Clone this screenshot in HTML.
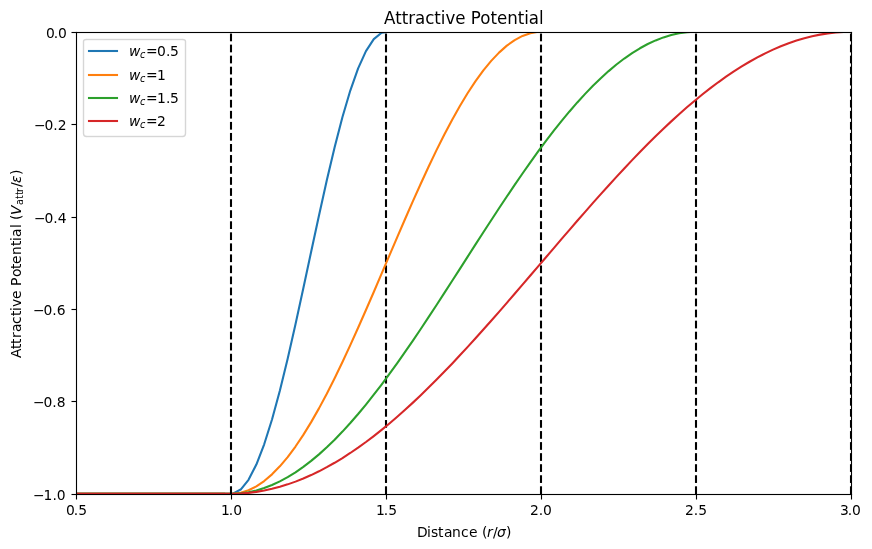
<!DOCTYPE html>
<html><head><meta charset="utf-8"><title>Attractive Potential</title>
<style>html,body{margin:0;padding:0;background:#fff;width:872px;height:549px;overflow:hidden}svg{display:block;will-change:transform}</style>
</head><body>
<svg width="872" height="549" viewBox="0 0 872 549">
<defs><clipPath id="c"><rect x="76" y="32" width="775" height="462"/></clipPath></defs>
<rect x="0" y="0" width="872" height="549" fill="#fff"/>
<g><rect x="75.944" y="494.5" width="1.111" height="5" fill="#000"/><rect x="230.944" y="494.5" width="1.111" height="5" fill="#000"/><rect x="385.944" y="494.5" width="1.111" height="5" fill="#000"/><rect x="540.944" y="494.5" width="1.111" height="5" fill="#000"/><rect x="695.944" y="494.5" width="1.111" height="5" fill="#000"/><rect x="850.944" y="494.5" width="1.111" height="5" fill="#000"/></g>
<g font-family="'DejaVu Sans', 'Liberation Sans', sans-serif" fill="#000"><text x="66 73.75 78.125" y="515" font-size="13.889">0.5</text><text x="220.9 228.775 233.15" y="515" font-size="13.889">1.0</text><text x="375.9 383.775 388.15" y="515" font-size="13.889">1.5</text><text x="529.95 538.7 543.075" y="515" font-size="13.889">2.0</text><text x="685 693.75 698.125" y="515" font-size="13.889">2.5</text><text x="839.9 847.65 852.025" y="515" font-size="13.889">3.0</text><text font-size="13.889"><tspan x="417 427 431 438 444 452 461 469 477 482" y="537">Distance (</tspan><tspan x="487" y="537" font-style="oblique">r</tspan><tspan x="493" y="537">/</tspan><tspan x="497" y="537" font-style="oblique">σ</tspan><tspan x="506" y="537">)</tspan></text></g>
<g><rect x="71.5" y="31.944" width="5" height="1.111" fill="#000"/><rect x="71.5" y="123.944" width="5" height="1.111" fill="#000"/><rect x="71.5" y="216.944" width="5" height="1.111" fill="#000"/><rect x="71.5" y="308.944" width="5" height="1.111" fill="#000"/><rect x="71.5" y="400.944" width="5" height="1.111" fill="#000"/><rect x="71.5" y="493.944" width="5" height="1.111" fill="#000"/></g>
<g font-family="'DejaVu Sans', 'Liberation Sans', sans-serif" fill="#000"><text x="32.95 43.575 52.45 56.825" y="500" font-size="13.889">−1.0</text><text x="32.9 43.525 52.275 56.65" y="407" font-size="13.889">−0.8</text><text x="32.9 43.525 52.275 56.65" y="315" font-size="13.889">−0.6</text><text x="33.9 44.525 53.275 57.65" y="223" font-size="13.889">−0.4</text><text x="33.95 44.575 53.325 57.7" y="130" font-size="13.889">−0.2</text><text x="45.9 53.65 58.025" y="38" font-size="13.889">0.0</text><text transform="translate(8.75 359) rotate(-90)" font-size="13.889"><tspan x="1 10 15 21 27 35 43 48 52 60 69 73 82 90 95 104 113 118 122 131 134 139" y="12">Attractive Potential (</tspan><tspan x="144" y="12" font-style="oblique">V</tspan><tspan x="154 160 164 167" y="14" font-size="9.722">attr</tspan><tspan x="172" y="12">/</tspan><tspan x="176" y="12" font-style="oblique">ε</tspan><tspan x="184" y="12">)</tspan></text></g>
<g>
<g><rect x="76" y="492.681" width="149.04" height="1.319" fill="#1f77b4"/></g>
<polyline clip-path="url(#c)" fill="none" points="225.04,493.722 232.868,493.606 240.697,489.548 248.525,479.791 256.353,464.581 264.182,444.3 272.01,419.458 279.838,390.678 287.666,358.683 295.495,324.278 303.323,288.326 311.151,251.731 318.98,215.412 326.808,180.282 334.636,147.222 342.464,117.065 350.293,90.566 358.121,68.393 365.949,51.101 373.778,39.126 381.606,32.768 389.434,31.722 397.262,31.722 405.091,31.722 412.919,31.722 420.747,31.722 428.576,31.722 436.404,31.722 444.232,31.722 452.06,31.722 459.889,31.722 467.717,31.722 475.545,31.722 483.373,31.722 491.202,31.722 499.03,31.722 506.858,31.722 514.687,31.722 522.515,31.722 530.343,31.722 538.171,31.722 546,31.722 553.828,31.722 561.656,31.722 569.485,31.722 577.313,31.722 585.141,31.722 592.969,31.722 600.798,31.722 608.626,31.722 616.454,31.722 624.283,31.722 632.111,31.722 639.939,31.722 647.767,31.722 655.596,31.722 663.424,31.722 671.252,31.722 679.081,31.722 686.909,31.722 694.737,31.722 702.565,31.722 710.394,31.722 718.222,31.722 726.05,31.722 733.879,31.722 741.707,31.722 749.535,31.722 757.363,31.722 765.192,31.722 773.02,31.722 780.848,31.722 788.677,31.722 796.505,31.722 804.333,31.722 812.161,31.722 819.99,31.722 827.818,31.722 835.646,31.722 843.474,31.722 851.303,31.722" stroke="#1f77b4" stroke-width="2.0833" stroke-linecap="butt" stroke-linejoin="round"/>
<g><rect x="384.958" y="486.292" width="2.083" height="7.708" fill="#000"/><rect x="384.958" y="475.25" width="2.083" height="7.708" fill="#000"/><rect x="384.958" y="464.208" width="2.083" height="7.708" fill="#000"/><rect x="384.958" y="453.167" width="2.083" height="7.708" fill="#000"/><rect x="384.958" y="442.125" width="2.083" height="7.708" fill="#000"/><rect x="384.958" y="431.083" width="2.083" height="7.708" fill="#000"/><rect x="384.958" y="420.042" width="2.083" height="7.708" fill="#000"/><rect x="384.958" y="409" width="2.083" height="7.708" fill="#000"/><rect x="384.958" y="397.958" width="2.083" height="7.708" fill="#000"/><rect x="384.958" y="386.917" width="2.083" height="7.708" fill="#000"/><rect x="384.958" y="375.875" width="2.083" height="7.708" fill="#000"/><rect x="384.958" y="364.833" width="2.083" height="7.708" fill="#000"/><rect x="384.958" y="353.792" width="2.083" height="7.708" fill="#000"/><rect x="384.958" y="342.75" width="2.083" height="7.708" fill="#000"/><rect x="384.958" y="331.708" width="2.083" height="7.708" fill="#000"/><rect x="384.958" y="320.667" width="2.083" height="7.708" fill="#000"/><rect x="384.958" y="309.625" width="2.083" height="7.708" fill="#000"/><rect x="384.958" y="298.583" width="2.083" height="7.708" fill="#000"/><rect x="384.958" y="287.542" width="2.083" height="7.708" fill="#000"/><rect x="384.958" y="276.5" width="2.083" height="7.708" fill="#000"/><rect x="384.958" y="265.458" width="2.083" height="7.708" fill="#000"/><rect x="384.958" y="254.417" width="2.083" height="7.708" fill="#000"/><rect x="384.958" y="243.375" width="2.083" height="7.708" fill="#000"/><rect x="384.958" y="232.333" width="2.083" height="7.708" fill="#000"/><rect x="384.958" y="221.292" width="2.083" height="7.708" fill="#000"/><rect x="384.958" y="210.25" width="2.083" height="7.708" fill="#000"/><rect x="384.958" y="199.208" width="2.083" height="7.708" fill="#000"/><rect x="384.958" y="188.167" width="2.083" height="7.708" fill="#000"/><rect x="384.958" y="177.125" width="2.083" height="7.708" fill="#000"/><rect x="384.958" y="166.083" width="2.083" height="7.708" fill="#000"/><rect x="384.958" y="155.042" width="2.083" height="7.708" fill="#000"/><rect x="384.958" y="144" width="2.083" height="7.708" fill="#000"/><rect x="384.958" y="132.958" width="2.083" height="7.708" fill="#000"/><rect x="384.958" y="121.917" width="2.083" height="7.708" fill="#000"/><rect x="384.958" y="110.875" width="2.083" height="7.708" fill="#000"/><rect x="384.958" y="99.833" width="2.083" height="7.708" fill="#000"/><rect x="384.958" y="88.792" width="2.083" height="7.708" fill="#000"/><rect x="384.958" y="77.75" width="2.083" height="7.708" fill="#000"/><rect x="384.958" y="66.708" width="2.083" height="7.708" fill="#000"/><rect x="384.958" y="55.667" width="2.083" height="7.708" fill="#000"/><rect x="384.958" y="44.625" width="2.083" height="7.708" fill="#000"/><rect x="384.958" y="33.583" width="2.083" height="7.708" fill="#000"/></g>
<g><rect x="76" y="492.681" width="149.04" height="1.319" fill="#ff7f0e"/></g>
<polyline clip-path="url(#c)" fill="none" points="225.04,493.722 232.868,493.693 240.697,492.676 248.525,490.213 256.353,486.318 264.182,481.017 272.01,474.343 279.838,466.338 287.666,457.052 295.495,446.543 303.323,434.878 311.151,422.13 318.98,408.38 326.808,393.713 334.636,378.222 342.464,362.005 350.293,345.163 358.121,327.802 365.949,310.033 373.778,291.965 381.606,273.714 389.434,255.393 397.262,237.119 405.091,219.005 412.919,201.167 420.747,183.716 428.576,166.761 436.404,150.411 444.232,134.767 452.06,119.927 459.889,105.987 467.717,93.032 475.545,81.144 483.373,70.399 491.202,60.863 499.03,52.597 506.858,45.653 514.687,40.075 522.515,35.897 530.343,33.146 538.171,31.839 546,31.722 553.828,31.722 561.656,31.722 569.485,31.722 577.313,31.722 585.141,31.722 592.969,31.722 600.798,31.722 608.626,31.722 616.454,31.722 624.283,31.722 632.111,31.722 639.939,31.722 647.767,31.722 655.596,31.722 663.424,31.722 671.252,31.722 679.081,31.722 686.909,31.722 694.737,31.722 702.565,31.722 710.394,31.722 718.222,31.722 726.05,31.722 733.879,31.722 741.707,31.722 749.535,31.722 757.363,31.722 765.192,31.722 773.02,31.722 780.848,31.722 788.677,31.722 796.505,31.722 804.333,31.722 812.161,31.722 819.99,31.722 827.818,31.722 835.646,31.722 843.474,31.722 851.303,31.722" stroke="#ff7f0e" stroke-width="2.0833" stroke-linecap="butt" stroke-linejoin="round"/>
<g><rect x="539.958" y="486.292" width="2.083" height="7.708" fill="#000"/><rect x="539.958" y="475.25" width="2.083" height="7.708" fill="#000"/><rect x="539.958" y="464.208" width="2.083" height="7.708" fill="#000"/><rect x="539.958" y="453.167" width="2.083" height="7.708" fill="#000"/><rect x="539.958" y="442.125" width="2.083" height="7.708" fill="#000"/><rect x="539.958" y="431.083" width="2.083" height="7.708" fill="#000"/><rect x="539.958" y="420.042" width="2.083" height="7.708" fill="#000"/><rect x="539.958" y="409" width="2.083" height="7.708" fill="#000"/><rect x="539.958" y="397.958" width="2.083" height="7.708" fill="#000"/><rect x="539.958" y="386.917" width="2.083" height="7.708" fill="#000"/><rect x="539.958" y="375.875" width="2.083" height="7.708" fill="#000"/><rect x="539.958" y="364.833" width="2.083" height="7.708" fill="#000"/><rect x="539.958" y="353.792" width="2.083" height="7.708" fill="#000"/><rect x="539.958" y="342.75" width="2.083" height="7.708" fill="#000"/><rect x="539.958" y="331.708" width="2.083" height="7.708" fill="#000"/><rect x="539.958" y="320.667" width="2.083" height="7.708" fill="#000"/><rect x="539.958" y="309.625" width="2.083" height="7.708" fill="#000"/><rect x="539.958" y="298.583" width="2.083" height="7.708" fill="#000"/><rect x="539.958" y="287.542" width="2.083" height="7.708" fill="#000"/><rect x="539.958" y="276.5" width="2.083" height="7.708" fill="#000"/><rect x="539.958" y="265.458" width="2.083" height="7.708" fill="#000"/><rect x="539.958" y="254.417" width="2.083" height="7.708" fill="#000"/><rect x="539.958" y="243.375" width="2.083" height="7.708" fill="#000"/><rect x="539.958" y="232.333" width="2.083" height="7.708" fill="#000"/><rect x="539.958" y="221.292" width="2.083" height="7.708" fill="#000"/><rect x="539.958" y="210.25" width="2.083" height="7.708" fill="#000"/><rect x="539.958" y="199.208" width="2.083" height="7.708" fill="#000"/><rect x="539.958" y="188.167" width="2.083" height="7.708" fill="#000"/><rect x="539.958" y="177.125" width="2.083" height="7.708" fill="#000"/><rect x="539.958" y="166.083" width="2.083" height="7.708" fill="#000"/><rect x="539.958" y="155.042" width="2.083" height="7.708" fill="#000"/><rect x="539.958" y="144" width="2.083" height="7.708" fill="#000"/><rect x="539.958" y="132.958" width="2.083" height="7.708" fill="#000"/><rect x="539.958" y="121.917" width="2.083" height="7.708" fill="#000"/><rect x="539.958" y="110.875" width="2.083" height="7.708" fill="#000"/><rect x="539.958" y="99.833" width="2.083" height="7.708" fill="#000"/><rect x="539.958" y="88.792" width="2.083" height="7.708" fill="#000"/><rect x="539.958" y="77.75" width="2.083" height="7.708" fill="#000"/><rect x="539.958" y="66.708" width="2.083" height="7.708" fill="#000"/><rect x="539.958" y="55.667" width="2.083" height="7.708" fill="#000"/><rect x="539.958" y="44.625" width="2.083" height="7.708" fill="#000"/><rect x="539.958" y="33.583" width="2.083" height="7.708" fill="#000"/></g>
<g><rect x="76" y="492.681" width="149.04" height="1.319" fill="#2ca02c"/></g>
<polyline clip-path="url(#c)" fill="none" points="225.04,493.722 232.868,493.709 240.697,493.257 248.525,492.16 256.353,490.422 264.182,488.047 272.01,485.041 279.838,481.414 287.666,477.175 295.495,472.337 303.323,466.912 311.151,460.916 318.98,454.366 326.808,447.281 334.636,439.678 342.464,431.582 350.293,423.012 358.121,413.995 365.949,404.555 373.778,394.718 381.606,384.511 389.434,373.964 397.262,363.107 405.091,351.968 412.919,340.58 420.747,328.974 428.576,317.183 436.404,305.239 444.232,293.177 452.06,281.029 459.889,268.83 467.717,256.614 475.545,244.415 483.373,232.268 491.202,220.205 499.03,208.262 506.858,196.471 514.687,184.865 522.515,173.476 530.343,162.338 538.171,151.48 546,140.933 553.828,130.727 561.656,120.89 569.485,111.449 577.313,102.432 585.141,93.863 592.969,85.766 600.798,78.164 608.626,71.078 616.454,64.528 624.283,58.532 632.111,53.108 639.939,48.269 647.767,44.03 655.596,40.403 663.424,37.398 671.252,35.023 679.081,33.284 686.909,32.187 694.737,31.735 702.565,31.722 710.394,31.722 718.222,31.722 726.05,31.722 733.879,31.722 741.707,31.722 749.535,31.722 757.363,31.722 765.192,31.722 773.02,31.722 780.848,31.722 788.677,31.722 796.505,31.722 804.333,31.722 812.161,31.722 819.99,31.722 827.818,31.722 835.646,31.722 843.474,31.722 851.303,31.722" stroke="#2ca02c" stroke-width="2.0833" stroke-linecap="butt" stroke-linejoin="round"/>
<g><rect x="694.958" y="486.292" width="2.083" height="7.708" fill="#000"/><rect x="694.958" y="475.25" width="2.083" height="7.708" fill="#000"/><rect x="694.958" y="464.208" width="2.083" height="7.708" fill="#000"/><rect x="694.958" y="453.167" width="2.083" height="7.708" fill="#000"/><rect x="694.958" y="442.125" width="2.083" height="7.708" fill="#000"/><rect x="694.958" y="431.083" width="2.083" height="7.708" fill="#000"/><rect x="694.958" y="420.042" width="2.083" height="7.708" fill="#000"/><rect x="694.958" y="409" width="2.083" height="7.708" fill="#000"/><rect x="694.958" y="397.958" width="2.083" height="7.708" fill="#000"/><rect x="694.958" y="386.917" width="2.083" height="7.708" fill="#000"/><rect x="694.958" y="375.875" width="2.083" height="7.708" fill="#000"/><rect x="694.958" y="364.833" width="2.083" height="7.708" fill="#000"/><rect x="694.958" y="353.792" width="2.083" height="7.708" fill="#000"/><rect x="694.958" y="342.75" width="2.083" height="7.708" fill="#000"/><rect x="694.958" y="331.708" width="2.083" height="7.708" fill="#000"/><rect x="694.958" y="320.667" width="2.083" height="7.708" fill="#000"/><rect x="694.958" y="309.625" width="2.083" height="7.708" fill="#000"/><rect x="694.958" y="298.583" width="2.083" height="7.708" fill="#000"/><rect x="694.958" y="287.542" width="2.083" height="7.708" fill="#000"/><rect x="694.958" y="276.5" width="2.083" height="7.708" fill="#000"/><rect x="694.958" y="265.458" width="2.083" height="7.708" fill="#000"/><rect x="694.958" y="254.417" width="2.083" height="7.708" fill="#000"/><rect x="694.958" y="243.375" width="2.083" height="7.708" fill="#000"/><rect x="694.958" y="232.333" width="2.083" height="7.708" fill="#000"/><rect x="694.958" y="221.292" width="2.083" height="7.708" fill="#000"/><rect x="694.958" y="210.25" width="2.083" height="7.708" fill="#000"/><rect x="694.958" y="199.208" width="2.083" height="7.708" fill="#000"/><rect x="694.958" y="188.167" width="2.083" height="7.708" fill="#000"/><rect x="694.958" y="177.125" width="2.083" height="7.708" fill="#000"/><rect x="694.958" y="166.083" width="2.083" height="7.708" fill="#000"/><rect x="694.958" y="155.042" width="2.083" height="7.708" fill="#000"/><rect x="694.958" y="144" width="2.083" height="7.708" fill="#000"/><rect x="694.958" y="132.958" width="2.083" height="7.708" fill="#000"/><rect x="694.958" y="121.917" width="2.083" height="7.708" fill="#000"/><rect x="694.958" y="110.875" width="2.083" height="7.708" fill="#000"/><rect x="694.958" y="99.833" width="2.083" height="7.708" fill="#000"/><rect x="694.958" y="88.792" width="2.083" height="7.708" fill="#000"/><rect x="694.958" y="77.75" width="2.083" height="7.708" fill="#000"/><rect x="694.958" y="66.708" width="2.083" height="7.708" fill="#000"/><rect x="694.958" y="55.667" width="2.083" height="7.708" fill="#000"/><rect x="694.958" y="44.625" width="2.083" height="7.708" fill="#000"/><rect x="694.958" y="33.583" width="2.083" height="7.708" fill="#000"/></g>
<g><rect x="76" y="492.681" width="149.04" height="1.319" fill="#d62728"/></g>
<polyline clip-path="url(#c)" fill="none" points="225.04,493.722 232.868,493.715 240.697,493.461 248.525,492.843 256.353,491.864 264.182,490.524 272.01,488.826 279.838,486.772 287.666,484.365 295.495,481.61 303.323,478.51 311.151,475.071 318.98,471.298 326.808,467.197 334.636,462.774 342.464,458.036 350.293,452.992 358.121,447.647 365.949,442.012 373.778,436.095 381.606,429.905 389.434,423.452 397.262,416.746 405.091,409.798 412.919,402.618 420.747,395.218 428.576,387.61 436.404,379.806 444.232,371.817 452.06,363.656 459.889,355.337 467.717,346.872 475.545,338.275 483.373,329.559 491.202,320.737 499.03,311.825 506.858,302.835 514.687,293.782 522.515,284.68 530.343,275.544 538.171,266.387 546,257.225 553.828,248.071 561.656,238.941 569.485,229.847 577.313,220.806 585.141,211.83 592.969,202.935 600.798,194.134 608.626,185.44 616.454,176.868 624.283,168.431 632.111,160.143 639.939,152.016 647.767,144.063 655.596,136.296 663.424,128.729 671.252,121.372 679.081,114.238 686.909,107.338 694.737,100.682 702.565,94.28 710.394,88.144 718.222,82.282 726.05,76.705 733.879,71.42 741.707,66.436 749.535,61.76 757.363,57.401 765.192,53.365 773.02,49.658 780.848,46.287 788.677,43.256 796.505,40.57 804.333,38.234 812.161,36.251 819.99,34.624 827.818,33.356 835.646,32.449 843.474,31.904 851.303,31.722" stroke="#d62728" stroke-width="2.0833" stroke-linecap="butt" stroke-linejoin="round"/>
<g><rect x="849.958" y="486.292" width="1.042" height="7.708" fill="#000"/><rect x="849.958" y="475.25" width="1.042" height="7.708" fill="#000"/><rect x="849.958" y="464.208" width="1.042" height="7.708" fill="#000"/><rect x="849.958" y="453.167" width="1.042" height="7.708" fill="#000"/><rect x="849.958" y="442.125" width="1.042" height="7.708" fill="#000"/><rect x="849.958" y="431.083" width="1.042" height="7.708" fill="#000"/><rect x="849.958" y="420.042" width="1.042" height="7.708" fill="#000"/><rect x="849.958" y="409" width="1.042" height="7.708" fill="#000"/><rect x="849.958" y="397.958" width="1.042" height="7.708" fill="#000"/><rect x="849.958" y="386.917" width="1.042" height="7.708" fill="#000"/><rect x="849.958" y="375.875" width="1.042" height="7.708" fill="#000"/><rect x="849.958" y="364.833" width="1.042" height="7.708" fill="#000"/><rect x="849.958" y="353.792" width="1.042" height="7.708" fill="#000"/><rect x="849.958" y="342.75" width="1.042" height="7.708" fill="#000"/><rect x="849.958" y="331.708" width="1.042" height="7.708" fill="#000"/><rect x="849.958" y="320.667" width="1.042" height="7.708" fill="#000"/><rect x="849.958" y="309.625" width="1.042" height="7.708" fill="#000"/><rect x="849.958" y="298.583" width="1.042" height="7.708" fill="#000"/><rect x="849.958" y="287.542" width="1.042" height="7.708" fill="#000"/><rect x="849.958" y="276.5" width="1.042" height="7.708" fill="#000"/><rect x="849.958" y="265.458" width="1.042" height="7.708" fill="#000"/><rect x="849.958" y="254.417" width="1.042" height="7.708" fill="#000"/><rect x="849.958" y="243.375" width="1.042" height="7.708" fill="#000"/><rect x="849.958" y="232.333" width="1.042" height="7.708" fill="#000"/><rect x="849.958" y="221.292" width="1.042" height="7.708" fill="#000"/><rect x="849.958" y="210.25" width="1.042" height="7.708" fill="#000"/><rect x="849.958" y="199.208" width="1.042" height="7.708" fill="#000"/><rect x="849.958" y="188.167" width="1.042" height="7.708" fill="#000"/><rect x="849.958" y="177.125" width="1.042" height="7.708" fill="#000"/><rect x="849.958" y="166.083" width="1.042" height="7.708" fill="#000"/><rect x="849.958" y="155.042" width="1.042" height="7.708" fill="#000"/><rect x="849.958" y="144" width="1.042" height="7.708" fill="#000"/><rect x="849.958" y="132.958" width="1.042" height="7.708" fill="#000"/><rect x="849.958" y="121.917" width="1.042" height="7.708" fill="#000"/><rect x="849.958" y="110.875" width="1.042" height="7.708" fill="#000"/><rect x="849.958" y="99.833" width="1.042" height="7.708" fill="#000"/><rect x="849.958" y="88.792" width="1.042" height="7.708" fill="#000"/><rect x="849.958" y="77.75" width="1.042" height="7.708" fill="#000"/><rect x="849.958" y="66.708" width="1.042" height="7.708" fill="#000"/><rect x="849.958" y="55.667" width="1.042" height="7.708" fill="#000"/><rect x="849.958" y="44.625" width="1.042" height="7.708" fill="#000"/><rect x="849.958" y="33.583" width="1.042" height="7.708" fill="#000"/></g>
<g><rect x="229.958" y="486.292" width="2.083" height="7.708" fill="#000"/><rect x="229.958" y="475.25" width="2.083" height="7.708" fill="#000"/><rect x="229.958" y="464.208" width="2.083" height="7.708" fill="#000"/><rect x="229.958" y="453.167" width="2.083" height="7.708" fill="#000"/><rect x="229.958" y="442.125" width="2.083" height="7.708" fill="#000"/><rect x="229.958" y="431.083" width="2.083" height="7.708" fill="#000"/><rect x="229.958" y="420.042" width="2.083" height="7.708" fill="#000"/><rect x="229.958" y="409" width="2.083" height="7.708" fill="#000"/><rect x="229.958" y="397.958" width="2.083" height="7.708" fill="#000"/><rect x="229.958" y="386.917" width="2.083" height="7.708" fill="#000"/><rect x="229.958" y="375.875" width="2.083" height="7.708" fill="#000"/><rect x="229.958" y="364.833" width="2.083" height="7.708" fill="#000"/><rect x="229.958" y="353.792" width="2.083" height="7.708" fill="#000"/><rect x="229.958" y="342.75" width="2.083" height="7.708" fill="#000"/><rect x="229.958" y="331.708" width="2.083" height="7.708" fill="#000"/><rect x="229.958" y="320.667" width="2.083" height="7.708" fill="#000"/><rect x="229.958" y="309.625" width="2.083" height="7.708" fill="#000"/><rect x="229.958" y="298.583" width="2.083" height="7.708" fill="#000"/><rect x="229.958" y="287.542" width="2.083" height="7.708" fill="#000"/><rect x="229.958" y="276.5" width="2.083" height="7.708" fill="#000"/><rect x="229.958" y="265.458" width="2.083" height="7.708" fill="#000"/><rect x="229.958" y="254.417" width="2.083" height="7.708" fill="#000"/><rect x="229.958" y="243.375" width="2.083" height="7.708" fill="#000"/><rect x="229.958" y="232.333" width="2.083" height="7.708" fill="#000"/><rect x="229.958" y="221.292" width="2.083" height="7.708" fill="#000"/><rect x="229.958" y="210.25" width="2.083" height="7.708" fill="#000"/><rect x="229.958" y="199.208" width="2.083" height="7.708" fill="#000"/><rect x="229.958" y="188.167" width="2.083" height="7.708" fill="#000"/><rect x="229.958" y="177.125" width="2.083" height="7.708" fill="#000"/><rect x="229.958" y="166.083" width="2.083" height="7.708" fill="#000"/><rect x="229.958" y="155.042" width="2.083" height="7.708" fill="#000"/><rect x="229.958" y="144" width="2.083" height="7.708" fill="#000"/><rect x="229.958" y="132.958" width="2.083" height="7.708" fill="#000"/><rect x="229.958" y="121.917" width="2.083" height="7.708" fill="#000"/><rect x="229.958" y="110.875" width="2.083" height="7.708" fill="#000"/><rect x="229.958" y="99.833" width="2.083" height="7.708" fill="#000"/><rect x="229.958" y="88.792" width="2.083" height="7.708" fill="#000"/><rect x="229.958" y="77.75" width="2.083" height="7.708" fill="#000"/><rect x="229.958" y="66.708" width="2.083" height="7.708" fill="#000"/><rect x="229.958" y="55.667" width="2.083" height="7.708" fill="#000"/><rect x="229.958" y="44.625" width="2.083" height="7.708" fill="#000"/><rect x="229.958" y="33.583" width="2.083" height="7.708" fill="#000"/></g>
</g>
<g><rect x="75.944" y="31.944" width="1.111" height="463.111" fill="#000"/><rect x="850.944" y="31.944" width="1.111" height="463.111" fill="#000"/><rect x="75.944" y="493.944" width="776.111" height="1.111" fill="#000"/><rect x="75.944" y="31.944" width="776.111" height="1.111" fill="#000"/></g>
<g font-family="'DejaVu Sans', 'Liberation Sans', sans-serif" fill="#000"><g transform="translate(384.1 24) scale(1 1.1) translate(-384.1 -24)"><text x="384.1 395.225 401.725 408.225 415.1 425.225 434.35 440.85 445.475 455.35 465.6 470.85 480.35 490.475 496.975 507.225 517.725 524.225 528.85 538.975" y="24" font-size="16.667">Attractive Potential</text></g></g>
<path d="M86.5 136.5L182.5 136.5Q185.5 136.5 185.5 133.5L185.5 41.5Q185.5 39.5 182.5 39.5L86.5 39.5Q83.5 39.5 83.5 41.5L83.5 133.5Q83.5 136.5 86.5 136.5Z" fill="#fff" fill-opacity="0.8"/>
<g fill="#ccc" fill-opacity="0.8"><rect x="87" y="135.806" width="95" height="1.389"/><rect x="87" y="38.806" width="95" height="1.389"/><rect x="184.806" y="42" width="1.389" height="91"/><rect x="82.806" y="42" width="1.389" height="91"/></g>
<path d="M182 136.5L182.5 136.5Q185.5 136.5 185.5 133.5L185.5 133M185.5 42L185.5 41.5Q185.5 39.5 182.5 39.5L182 39.5M87 39.5L86.5 39.5Q83.5 39.5 83.5 41.5L83.5 42M83.5 133L83.5 133.5Q83.5 136.5 86.5 136.5L87 136.5" fill="none" stroke="#ccc" stroke-opacity="0.8" stroke-width="1.3889" stroke-linecap="butt"/>
<g><rect x="87.958" y="49.958" width="30.083" height="2.083" fill="#1f77b4"/><rect x="87.958" y="73.958" width="30.083" height="2.083" fill="#ff7f0e"/><rect x="87.958" y="96.958" width="30.083" height="2.083" fill="#2ca02c"/><rect x="87.958" y="119.958" width="30.083" height="2.083" fill="#d62728"/></g>
<g font-family="'DejaVu Sans', 'Liberation Sans', sans-serif" fill="#000"><text font-size="13.889"><tspan x="129" y="56" font-style="oblique">w</tspan><tspan x="140" y="58" font-style="oblique" font-size="9.722">c</tspan><tspan x="146 157 166 170" y="56">=0.5</tspan></text><text font-size="13.889"><tspan x="129" y="80" font-style="oblique">w</tspan><tspan x="140" y="82" font-style="oblique" font-size="9.722">c</tspan><tspan x="146 157" y="80">=1</tspan></text><text font-size="13.889"><tspan x="129" y="103" font-style="oblique">w</tspan><tspan x="140" y="105" font-style="oblique" font-size="9.722">c</tspan><tspan x="146 157 166 170" y="103">=1.5</tspan></text><text font-size="13.889"><tspan x="129" y="126" font-style="oblique">w</tspan><tspan x="140" y="128" font-style="oblique" font-size="9.722">c</tspan><tspan x="146 157" y="126">=2</tspan></text></g>
</svg>
</body></html>
